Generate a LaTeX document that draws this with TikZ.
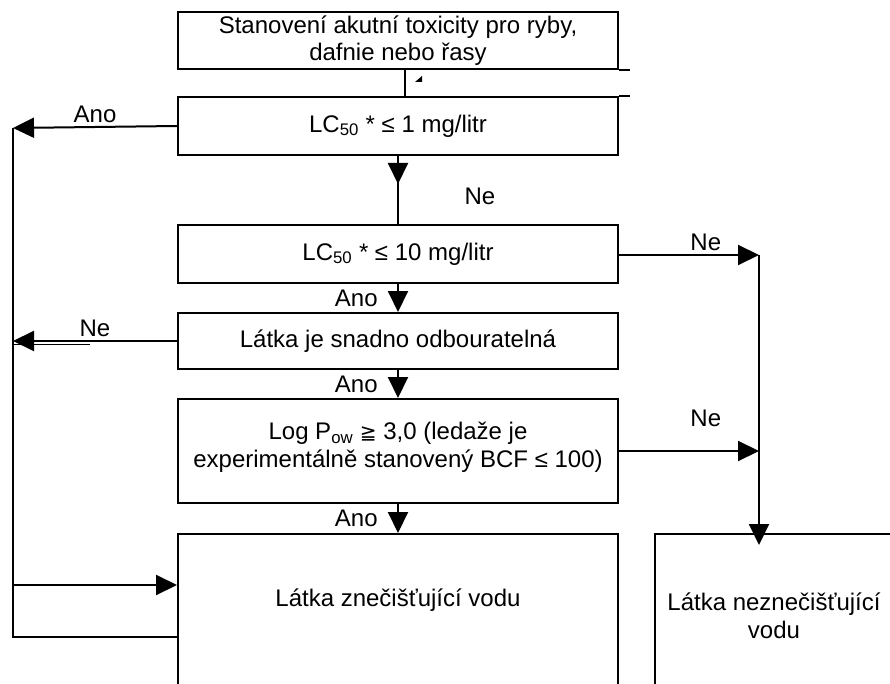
\documentclass[tikz,border=0pt]{standalone}
\usepackage{fontspec}
\setmainfont{Liberation Sans}
\newfontfamily\symfont{DejaVu Sans}
\usetikzlibrary{arrows.meta}

\begin{document}
\begin{tikzpicture}[x=1pt,y=-1pt,line width=2pt,
    every node/.style={font=\fontsize{24pt}{27.5pt}\selectfont},
    box/.style={draw,minimum width=440pt,align=center,inner sep=0pt},
    arr/.style={-{Triangle[length=21pt,width=20pt]}}]
      \useasboundingbox (0,0) rectangle (890,684);
      \clip (0,0) rectangle (890,684);
      \draw
        (398,40.5) node[box,minimum height=57pt] (start){Stanovení akutní toxicity pro ryby,\\dafnie nebo řasy}
        (398,126) node[box,minimum height=58pt] (lc1){LC\textsubscript{50} * ≤ 1 mg/litr}
        (398,451) node[box,minimum height=104pt,text depth=12pt] (logp){Log P\textsubscript{ow} {\symfont\fontsize{20pt}{20pt}\selectfont ≧} 3,0 (ledaže je\\experimentálně stanovený BCF ≤ 100)}
        (398,254) node[box,minimum height=58pt] (lc10){LC\textsubscript{50} * ≤ 10 mg/litr}
        (398,341) node[box,minimum height=56pt] (odb){Látka je snadno odbouratelná}
        (398,533) node[box,anchor=north,minimum height=250pt] (pol){}
        (654,533) node[box,anchor=north west,minimum width=300pt,minimum height=250pt] (neg){};
      \node (poltext) at (398,600) {Látka znečišťující vodu};
      \node[align=center] (negtext) at (774,616) {Látka neznečišťující\\vodu};
      \coordinate (railL) at (13,128);
      \coordinate (railM) at (13,585);
      \coordinate (railB) at (13,637);
      \coordinate (railR) at (759,255);
      \begin{scope}
        \draw ([xshift=7pt]start.south) -- ([xshift=7pt]lc1.north);
        \fill (415,82) -- (422,82) -- (422,76) -- cycle;
        \draw (start.south east) -- ++(11,0);
        \draw (lc1.north east) -- ++(11,0);
        \draw[arr] (lc1.west) -- node[above]{Ano} (railL);
        \draw (lc1.south) -- node[pos=0.6,xshift=82pt]{Ne} (lc10.north);
        \draw[arr] (lc1.south) -- ++(0,28);
        \draw[arr] (lc10.east |- railR) -- node[pos=0.62,above]{Ne} (railR);
        \draw[arr] (railR) -- ([yshift=-12pt]railR |- neg.north);
        \draw[arr] (lc10.south) -- node[left=16pt]{Ano} (odb.north);
        \draw[arr] (odb.west) -- node[above]{Ne} (odb.west -| railL);
        \draw[line width=1pt] ([yshift=-3pt]odb.west -| railL) -- ++(77,0);
        \draw[arr] (odb.south) -- node[left=16pt]{Ano} (logp.north);
        \draw[arr] (logp.east |- 0,451) -- node[pos=0.62,above=20pt]{Ne} (railR |- 0,451);
        \draw[arr] (logp.south) -- node[left=16pt]{Ano} (pol.north);
        \draw (railL) -- (railB) -- (railB -| pol.west);
        \draw[arr] (railM) -- (railM -| pol.west);
      \end{scope}
    \end{tikzpicture}
\end{document}
